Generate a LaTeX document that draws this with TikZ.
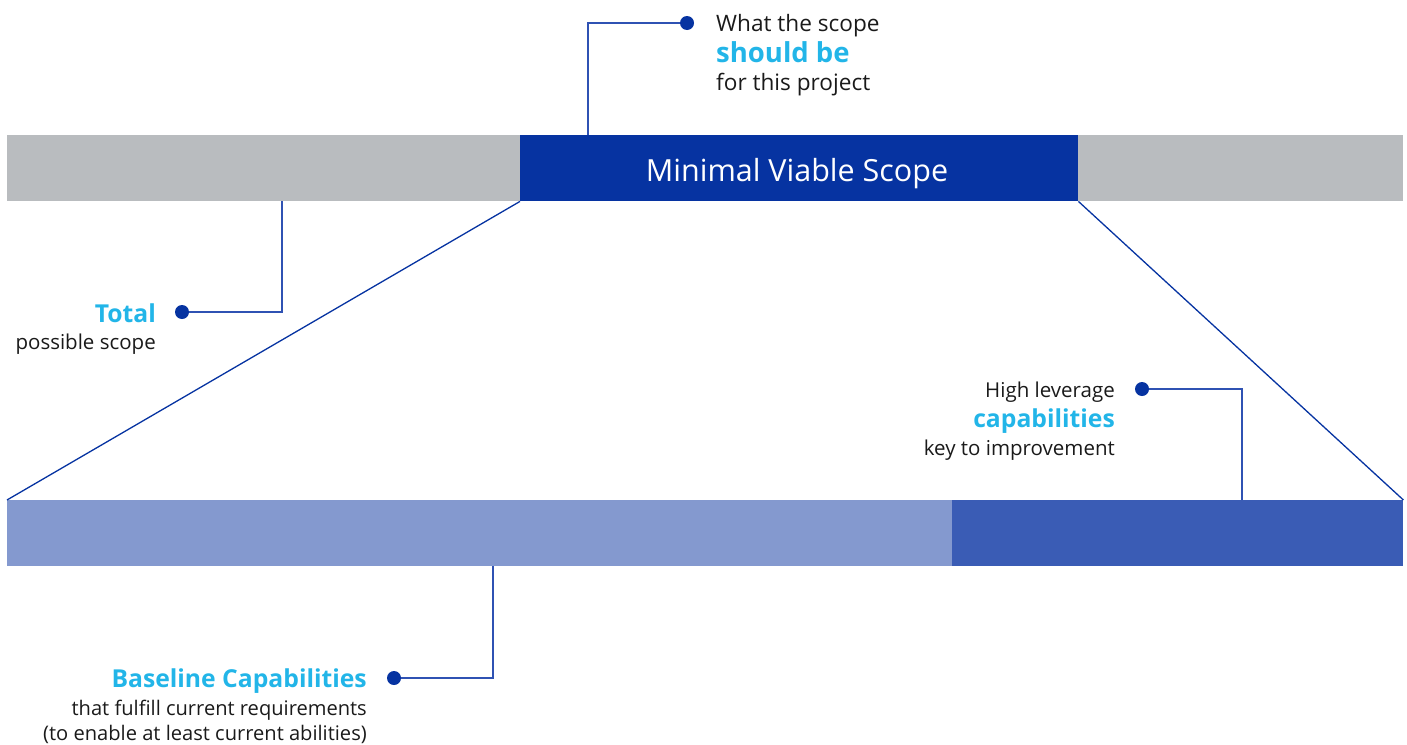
\documentclass[tikz,border=0pt]{standalone}
\usepackage{fontspec}
\setmainfont{Open Sans}
\definecolor{scopeblue}{HTML}{0633A1}
\definecolor{leadblue}{HTML}{2F52B3}
\definecolor{bargray}{HTML}{B9BCBF}
\definecolor{baselight}{HTML}{8499CF}
\definecolor{levermid}{HTML}{3A5CB5}
\definecolor{hlcyan}{HTML}{22B5E8}
\definecolor{txtdark}{HTML}{1A1A1A}
\begin{document}
\begin{tikzpicture}[x=1pt,y=-1pt,
  bar/.style={inner sep=0, minimum height=66, anchor=north west},
  dot/.style={circle, fill=scopeblue, inner sep=0, minimum size=14},
  lead/.style={draw=leadblue, line width=1.3},
  txt/.style={inner sep=0, text=txtdark, font=\fontsize{20.5}{25}\selectfont},
  hl/.style={inner sep=0, text=hlcyan, font=\fontsize{24.7}{28}\bfseries}]
\useasboundingbox (0,0) rectangle (1407,744);
% bars
\node[bar, fill=bargray, minimum width=1396] (total) at (7,135){};
\node[bar, fill=scopeblue, minimum width=558] (mvs) at (520,135){};
\node[text=white, font=\fontsize{30.5}{34}\selectfont] (mvslabel) at (797,174){Minimal Viable Scope};
\node[bar, fill=baselight, minimum width=945] (base) at (7,500){};
\node[bar, fill=levermid, minimum width=451] (lever) at (952,500){};
\draw[draw=scopeblue, line width=1.3](mvs.south west) -- (base.north west);
\draw[draw=scopeblue, line width=1.3](mvs.south east) -- (lever.north east);
% callouts
\coordinate (c1) at (588,135);
\coordinate (c2) at (282,201);
\coordinate (c3) at (1242,500);
\coordinate (c4) at (493,566);
\node[dot] (d1) at (687,23){};
\node[dot] (d2) at (182,312){};
\node[dot] (d3) at (1142,389){};
\node[dot] (d4) at (394,678){};
\draw[lead](d1) -| (c1);
\draw[lead](d2) -| (c2);
\draw[lead](d3) -| (c3);
\draw[lead](d4) -| (c4);
% texts
\node[txt, anchor=base west, font=\fontsize{22.6}{26}\selectfont] (t1a) at (716,31){What the scope};
\node[hl, anchor=base west, font=\fontsize{27.5}{30}\bfseries] (t1b) at (716,62){should be};
\node[txt, anchor=base west, font=\fontsize{22.6}{26}\selectfont] (t1c) at (716,90){for this project};
\node[hl, anchor=base east] (t2a) at (156,322){Total};
\node[txt, anchor=base east] (t2b) at (156,349){possible scope};
\node[txt, anchor=base east] (t3a) at (1115,397){High leverage};
\node[hl, anchor=base east] (t3b) at (1115,427){capabilities};
\node[txt, anchor=base east] (t3c) at (1115,455){key to improvement};
\node[hl, anchor=base east] (t4a) at (367,687){Baseline Capabilities};
\node[txt, anchor=base east, font=\fontsize{20.1}{24}\selectfont] (t4b) at (367,715){that fulfill current requirements};
\node[txt, anchor=base east, font=\fontsize{20.1}{24}\selectfont] (t4c) at (367,740){(to enable at least current abilities)};
\end{tikzpicture}
\end{document}
